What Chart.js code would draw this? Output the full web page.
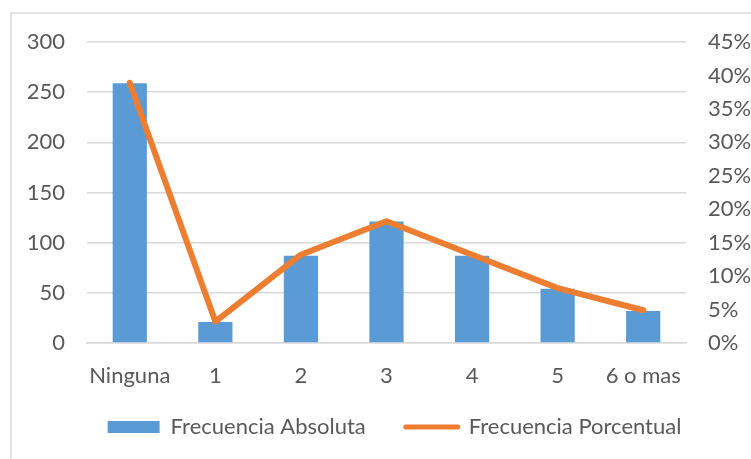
<!DOCTYPE html>
<html><head><meta charset="utf-8">
<script src="https://cdn.jsdelivr.net/npm/chart.js@4"></script>
<style>html,body{margin:0;padding:0;background:#fff}#wrap{width:751px;height:459px;position:relative}</style>
</head><body><div id="wrap"><canvas id="c" width="751" height="459"></canvas></div>
<script>
const categories = ['Ninguna', '1', '2', '3', '4', '5', '6 o mas'];
const frecuenciaAbsoluta = [259, 21, 87, 121, 87, 54, 32];
const frecuenciaPorcentual = [38.9, 3.2, 13.2, 18.2, 13.2, 8.2, 4.9];
const leftTicks = [0, 50, 100, 150, 200, 250, 300];
const rightTicks = [0, 5, 10, 15, 20, 25, 30, 35, 40, 45];

const txt = '#595959', grid = '#d9d9d9';
const FONT = 'Lato';
const FS = 22;

const framePlugin = {
  id: 'frame',
  beforeDraw(chart) {
    const ctx = chart.ctx;
    ctx.save();
    ctx.fillStyle = '#fff';
    ctx.fillRect(0, 0, chart.width, chart.height);
    ctx.strokeStyle = '#d9d9d9';
    ctx.lineWidth = 1.5;
    ctx.beginPath();
    ctx.moveTo(11, chart.height + 5);
    ctx.lineTo(11, 13);
    ctx.lineTo(chart.width + 5, 13);
    ctx.stroke();
    ctx.restore();
  },
  afterLayout(chart) {
    const l = chart.legend;
    if (!l) return;
    l.top -= 11; l.bottom -= 11;
    l.left += 19; l.right += 19;
  }
};

new Chart(document.getElementById('c'), {
  data: {
    labels: categories,
    datasets: [
      {
        type: 'line', label: 'Frecuencia Porcentual', data: frecuenciaPorcentual,
        yAxisID: 'y1', borderColor: '#ed7d31', backgroundColor: '#ed7d31',
        borderWidth: 6, borderCapStyle: 'round', borderJoinStyle: 'round',
        pointRadius: 0, tension: 0, order: 0
      },
      {
        type: 'bar', label: 'Frecuencia Absoluta', data: frecuenciaAbsoluta,
        yAxisID: 'y', backgroundColor: '#5b9bd5', borderWidth: 0,
        categoryPercentage: 1, barPercentage: 0.4, order: 1
      }
    ]
  },
  options: {
    responsive: false, animation: false,
    layout: { padding: { top: 42, left: 0, right: 0, bottom: 0 } },
    plugins: {
      tooltip: { enabled: false },
      legend: {
        position: 'bottom',
        reverse: true,
        labels: {
          color: txt, font: { family: FONT, size: FS },
          usePointStyle: true, pointStyleWidth: 52, boxHeight: 12,
          padding: 40,
          generateLabels(chart) {
            const items = Chart.defaults.plugins.legend.labels.generateLabels(chart);
            items.forEach(it => {
              const ds = chart.data.datasets[it.datasetIndex];
              it.pointStyle = ds.type === 'line' ? 'line' : 'rect';
              if (ds.type === 'line') { it.lineWidth = 5; it.lineCap = 'round'; it.strokeStyle = '#ed7d31'; }
              else { it.lineWidth = 0; }
            });
            return items;
          }
        }
      }
    },
    scales: {
      x: {
        grid: { display: false, drawTicks: false },
        border: { display: true, color: grid, width: 1.5 },
        ticks: { color: txt, font: { family: FONT, size: FS }, padding: 20,
                 maxRotation: 0, minRotation: 0, autoSkip: false },
        afterFit(s) { s.height = 44; }
      },
      y: {
        position: 'left', min: 0, max: 300,
        afterBuildTicks(s) { s.ticks = leftTicks.map(v => ({ value: v })); },
        grid: { color: grid, lineWidth: 1.5, drawTicks: false },
        border: { display: false },
        ticks: { color: txt, font: { family: FONT, size: FS }, padding: 22 },
        afterFit(s) { s.width = 87; }
      },
      y1: {
        position: 'right', min: 0, max: 45,
        afterBuildTicks(s) { s.ticks = rightTicks.map(v => ({ value: v })); },
        grid: { display: false, drawTicks: false },
        border: { display: false },
        ticks: { color: txt, font: { family: FONT, size: FS }, padding: 22, callback: v => v + '%' },
        afterFit(s) { s.width = 65; }
      }
    }
  },
  plugins: [framePlugin]
});
</script>
</body></html>
